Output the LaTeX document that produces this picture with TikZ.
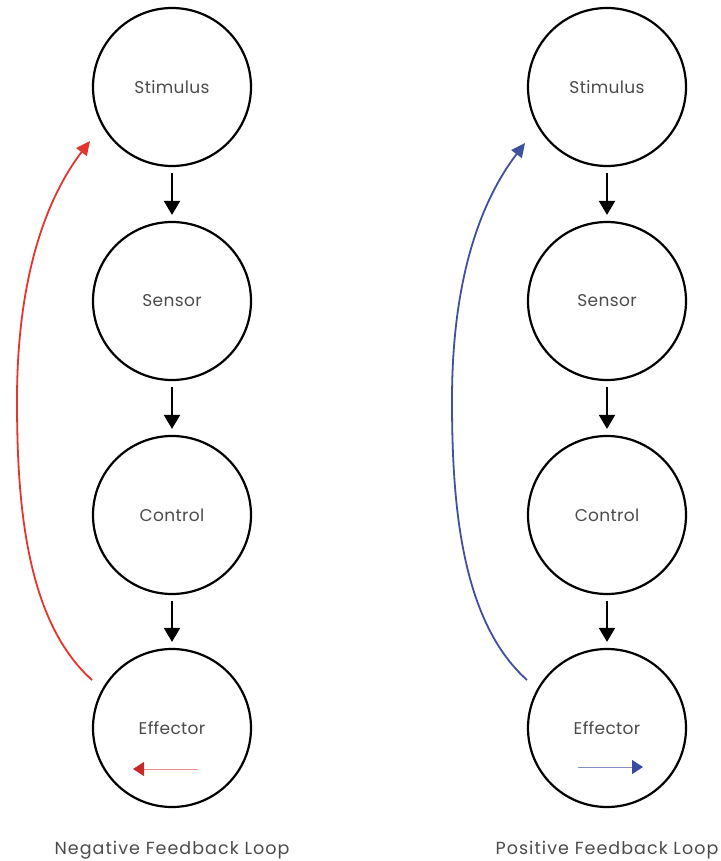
\documentclass[tikz,border=0pt]{standalone}
\usepackage{fontspec}
\setmainfont{Poppins}
\usetikzlibrary{arrows.meta}

\definecolor{inkgray}{RGB}{75,75,75}
\definecolor{negred}{RGB}{228,52,45}
\definecolor{negredhead}{RGB}{200,40,40}
\definecolor{negredline}{RGB}{235,140,140}
\definecolor{posblue}{RGB}{62,80,158}
\definecolor{posbluehead}{RGB}{55,75,160}
\definecolor{posblueline}{RGB}{130,145,195}

\tikzset{
  stage/.style={circle, draw=black, line width=2.2pt, minimum size=158pt,
    inner sep=0pt, text=inkgray,
    font=\fontsize{17}{19}\selectfont\addfontfeature{LetterSpace=2}},
  flow/.style={line width=2pt, -{Triangle[length=14pt,width=16pt]},
    shorten <=6pt, shorten >=6pt},
  loopline/.style={line width=1.8pt, -{Triangle[length=14pt,width=13pt]}},
  hint/.style={line width=1pt},
  caption/.style={text=inkgray,
    font=\fontsize{17.5}{20}\selectfont\addfontfeature{LetterSpace=6}}
}

\begin{document}
\begin{tikzpicture}[x=1pt, y=-1pt]
  \useasboundingbox (0,0) rectangle (720,861);

  % ---- negative feedback column ----
  \node[stage] (stim1) at (172,87)  {Stimulus};
  \node[stage] (sens1) at (172,301) {Sensor};
  \node[stage] (ctrl1) at (172,515) {Control};
  \node[stage] (eff1)  at (172,728) {Effector};
  \draw[flow] (stim1) -- (sens1);
  \draw[flow] (sens1) -- (ctrl1);
  \draw[flow] (ctrl1) -- (eff1);

  \coordinate (negstart) at ([shift={(-80,-48)}]eff1.center);
  \coordinate (negmid)   at ([shift={(-155,-115)}]ctrl1.center);
  \coordinate (negend)   at ([shift={(-82,54)}]stim1.center);
  \draw[loopline, draw=negred]
    (negstart) .. controls +(-67,-60) and +(0,100) .. (negmid)
               .. controls +(0,-120) and +(-45,59) .. (negend);

  \coordinate (neghintA) at ([shift={(26,41)}]eff1.center);
  \coordinate (neghintB) at ([shift={(-39,41)}]eff1.center);
  \draw[hint, draw=negredline, -{Triangle[length=11pt,width=14pt,color=negredhead]}]
    (neghintA) -- (neghintB);

  \node[caption] (negcap) at (172,850) {Negative Feedback Loop};

  % ---- positive feedback column ----
  \node[stage] (stim2) at (607,87)  {Stimulus};
  \node[stage] (sens2) at (607,301) {Sensor};
  \node[stage] (ctrl2) at (607,515) {Control};
  \node[stage] (eff2)  at (607,728) {Effector};
  \draw[flow] (stim2) -- (sens2);
  \draw[flow] (sens2) -- (ctrl2);
  \draw[flow] (ctrl2) -- (eff2);

  \coordinate (posstart) at ([shift={(-80,-48)}]eff2.center);
  \coordinate (posmid)   at ([shift={(-155,-115)}]ctrl2.center);
  \coordinate (posend)   at ([shift={(-82,56)}]stim2.center);
  \draw[loopline, draw=posblue]
    (posstart) .. controls +(-67,-60) and +(0,100) .. (posmid)
               .. controls +(0,-120) and +(-45,59) .. (posend);

  \coordinate (poshintA) at ([shift={(-29,39)}]eff2.center);
  \coordinate (poshintB) at ([shift={(36,39)}]eff2.center);
  \draw[hint, draw=posblueline, -{Triangle[length=11pt,width=14pt,color=posbluehead]}]
    (poshintA) -- (poshintB);

  \node[caption] (poscap) at (607,850) {Positive Feedback Loop};
\end{tikzpicture}
\end{document}
